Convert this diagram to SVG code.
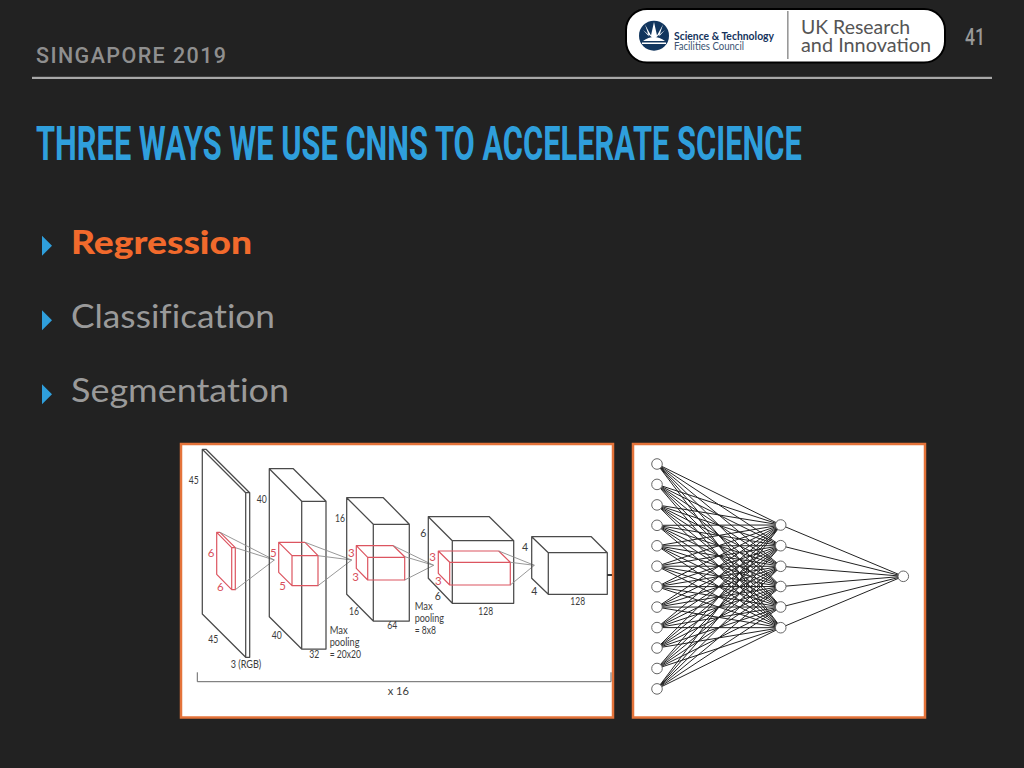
<svg xmlns="http://www.w3.org/2000/svg" width="1024" height="768" viewBox="0 0 1024 768">
<style>
.hd{font-family:"Roboto","Liberation Sans",sans-serif}
.body{font-family:"Lato","Noto Sans",sans-serif;font-size:33px;font-variant-ligatures:none}
.lb{font-family:"Lato","Noto Sans",sans-serif;font-size:10.5px;fill:#3c3c3c}
.lm{text-anchor:middle}
.red{fill:#d8505c;font-size:11.5px}
.blk{fill:none;stroke:#4a4a4a;stroke-width:1.25;stroke-linejoin:round}
.rd{fill:none;stroke:#dc5560;stroke-width:1.2;stroke-linejoin:round}
.gy{fill:none;stroke:#8c8c8c;stroke-width:.9}
.panel{fill:#fff;stroke:#e4733a;stroke-width:2.5}
.edge{fill:none;stroke:#222;stroke-width:1}
.n{fill:#fff;stroke:#666;stroke-width:1}
.bul{fill:#2f9fdc}
</style>
<rect width="1024" height="768" fill="#222222"/>
<g id="header">
<text class="hd" x="36" y="62.7" font-size="21.500" font-weight="500" fill="#8f8f8f" textLength="190" lengthAdjust="spacing">SINGAPORE 2019</text>
<rect x="32" y="76.8" width="960" height="2.2" fill="#a8a8a8"/>
<text class="hd" x="965" y="45" font-size="23" font-weight="500" fill="#999" textLength="20" lengthAdjust="spacingAndGlyphs">41</text>
</g>
<g id="logo">
<rect x="626" y="9" width="319" height="53.5" rx="21" fill="#fff" stroke="#000" stroke-width="2"/>
<circle cx="654" cy="35.7" r="15" fill="#12365e"/>
<path d="M654 39L643 30L649 36.500L645 24.500L651 35.500L654 22L657 35.500L663 24.500L659 36.500L665 30L654 39Z" fill="#fff"/>
<path d="M643 41Q654 33 665 41Z" fill="#fff"/>
<rect x="642" y="42.500" width="24" height="1.500" fill="#fff"/>
<text x="674" y="40" font-family="Lato,'Noto Sans',sans-serif" font-size="10.500" font-weight="700" fill="#14325c" textLength="100" lengthAdjust="spacingAndGlyphs">Science &amp; Technology</text>
<text x="674" y="50" font-family="Lato,'Noto Sans',sans-serif" font-size="10.500" fill="#3c5472" textLength="70" lengthAdjust="spacingAndGlyphs">Facilities Council</text>
<rect x="787" y="11" width="1.600" height="48" fill="#999"/>
<text x="801" y="34" font-family="Lato,'Noto Sans',sans-serif" font-size="19.500" fill="#555" textLength="109" lengthAdjust="spacingAndGlyphs">UK Research</text>
<text x="801" y="52" font-family="Lato,'Noto Sans',sans-serif" font-size="19.500" fill="#555" textLength="130" lengthAdjust="spacingAndGlyphs">and Innovation</text>
</g>
<text id="title" class="hd" transform="translate(36 160.200) scale(.75 1)" x="0" y="0" font-size="47.500" font-weight="700" fill="#2f9fdc" textLength="1021" lengthAdjust="spacingAndGlyphs">THREE WAYS WE USE CNNS TO ACCELERATE SCIENCE</text>
<g id="bullets">
<path class="bul" d="M42 235.700L52 245.700L42 255.700Z"/>
<path class="bul" d="M42 310.300L52 320.300L42 330.300Z"/>
<path class="bul" d="M42 384.300L52 394.300L42 404.300Z"/>
<text class="body" x="71" y="253.700" font-weight="900" fill="#f26a2c" textLength="181" lengthAdjust="spacingAndGlyphs">Regression</text>
<text class="body" x="71" y="327.700" fill="#9a9a9a" textLength="204" lengthAdjust="spacingAndGlyphs">Classification</text>
<text class="body" x="71" y="401.700" fill="#9a9a9a" textLength="218" lengthAdjust="spacingAndGlyphs">Segmentation</text>
</g>
<g id="cnn-figure">
<rect class="panel" x="181" y="444" width="432" height="273.500"/>
<g id="layer-input">
<path class="blk" d="M202.300 449.300V614L245.700 657.300H249.700V492.700L206 449.300H202.300L245.700 492.700V657.300M245.700 492.700H249.700"/>
<path class="rd" d="M220 532.300H216.700V574.300L231.700 589.700H235.300V547.700L220 532.300M216.700 532.300L231.700 547.700V589.700M231.700 547.700H235.300"/>
<path class="gy" d="M220 532.300L274.300 560M235.300 547.700L274.300 560M235.300 589.700L274.300 560"/>
<text class="lb lm" x="193.700" y="483.700" textLength="10" lengthAdjust="spacingAndGlyphs">45</text>
<text class="lb lm" x="213.300" y="643.300" textLength="10" lengthAdjust="spacingAndGlyphs">45</text>
<text class="lb lm" x="246" y="668.300" textLength="30.600" lengthAdjust="spacingAndGlyphs">3 (RGB)</text>
<text class="lb lm red" x="211" y="556.700">6</text>
<text class="lb lm red" x="220.300" y="590.700">6</text>
</g>
<g id="layer-conv1">
<path class="blk" d="M269.300 468.700V616.700L301.700 649H326V501.300L293.300 468.700H269.300L301.700 501.300V649M301.700 501.300H326"/>
<path class="rd" d="M305 542.300H278.700V572.300L292 585.700H318V555.700L305 542.300M278.700 542.300L292 555.700V585.700M292 555.700H318"/>
<path class="gy" d="M305 542.300L351.700 560M318 555.700L351.700 560M318 585.700L351.700 560"/>
<text class="lb lm" x="261.700" y="503.300" textLength="10" lengthAdjust="spacingAndGlyphs">40</text>
<text class="lb lm" x="276.700" y="639" textLength="10" lengthAdjust="spacingAndGlyphs">40</text>
<text class="lb lm" x="314.300" y="658.300" textLength="10" lengthAdjust="spacingAndGlyphs">32</text>
<text class="lb lm red" x="273.300" y="556.700">5</text>
<text class="lb lm red" x="282.700" y="590.300">5</text>
<text class="lb" x="329.700" y="634" textLength="18" lengthAdjust="spacingAndGlyphs">Max</text>
<text class="lb" x="329.700" y="646.300" textLength="29.700" lengthAdjust="spacingAndGlyphs">pooling</text>
<text class="lb" x="329.700" y="658" textLength="31.300" lengthAdjust="spacingAndGlyphs">= 20x20</text>
</g>
<g id="layer-conv2">
<path class="blk" d="M346.700 497.700V594.300L373.300 621H409.300V524.300L383.300 497.700H346.700L373.300 524.300V621M373.300 524.300H409.300"/>
<path class="rd" d="M393.300 545.700H356.300V568.300L367.700 580H404.700V556.700L393.300 545.700M356.300 545.700L367.700 557.300V580M367.700 557.300H404.700"/>
<path class="gy" d="M393.300 545.700L433.700 565.300M404.700 556.700L433.700 565.300M404.700 580L433.700 565.300"/>
<text class="lb lm" x="340" y="522.300" textLength="10" lengthAdjust="spacingAndGlyphs">16</text>
<text class="lb lm" x="354" y="614.700" textLength="10" lengthAdjust="spacingAndGlyphs">16</text>
<text class="lb lm" x="392.300" y="629" textLength="10" lengthAdjust="spacingAndGlyphs">64</text>
<text class="lb lm red" x="351.300" y="556.700">3</text>
<text class="lb lm red" x="355.700" y="581">3</text>
<text class="lb" x="414.700" y="609.700" textLength="18" lengthAdjust="spacingAndGlyphs">Max</text>
<text class="lb" x="414.700" y="622.300" textLength="29.300" lengthAdjust="spacingAndGlyphs">pooling</text>
<text class="lb" x="414.700" y="634" textLength="21.300" lengthAdjust="spacingAndGlyphs">= 8x8</text>
</g>
<g id="layer-conv3">
<path class="blk" d="M428.300 516.700V578.300L452.300 603.300H513.700V540.700L489.300 516.700H428.300L452.300 540.700V603.300M452.300 540.700H513.700"/>
<path class="rd" d="M498.700 551H438.300V573.300L449.700 585H510.300V562.300L498.700 551M438.300 551L449.700 562.300V585M449.700 562.300H510.300"/>
<path class="gy" d="M498.700 551L534.300 565.300M510.300 562.300L534.300 565.300M510.300 585L534.300 565.300"/>
<text class="lb lm" x="423.300" y="536.700">6</text>
<text class="lb lm" x="437.700" y="599.700">6</text>
<text class="lb lm" x="485.700" y="614.700" textLength="14.700" lengthAdjust="spacingAndGlyphs">128</text>
<text class="lb lm red" x="432.700" y="561.300">3</text>
<text class="lb lm red" x="438.300" y="585.300">3</text>
</g>
<g id="layer-conv4">
<path class="blk" d="M531.700 536.700V578.300L548.300 594.300H607.300V552.700L591.300 536.700H531.700L548.300 552.700V594.300M548.300 552.700H607.300"/>
<path d="M607.300 575H612" stroke="#222" stroke-width="1.800"/>
<text class="lb lm" x="525" y="551.300">4</text>
<text class="lb lm" x="534.300" y="595.300">4</text>
<text class="lb lm" x="577.700" y="605" textLength="14.700" lengthAdjust="spacingAndGlyphs">128</text>
</g>
<g id="bracket">
<path class="gy" style="stroke:#666;stroke-width:1" d="M197.300 672.300V681.700H611V672.300"/>
<text class="lb lm" x="398.300" y="694.700" style="font-size:12px" textLength="21.300" lengthAdjust="spacingAndGlyphs">x 16</text>
</g>
</g>
<g id="mlp-figure">
<rect class="panel" x="633" y="444" width="292" height="273.500"/>
<g id="connectors">
<path class="edge" d="M657 464L781 525M657 464L781 545.700M657 464L781 566.300M657 464L781 586.500M657 464L781 607M657 464L781 627.700"/>
<path class="edge" d="M657 484.400L781 525M657 484.400L781 545.700M657 484.400L781 566.300M657 484.400L781 586.500M657 484.400L781 607M657 484.400L781 627.700"/>
<path class="edge" d="M657 504.900L781 525M657 504.900L781 545.700M657 504.900L781 566.300M657 504.900L781 586.500M657 504.900L781 607M657 504.900L781 627.700"/>
<path class="edge" d="M657 525.300L781 525M657 525.300L781 545.700M657 525.300L781 566.300M657 525.300L781 586.500M657 525.300L781 607M657 525.300L781 627.700"/>
<path class="edge" d="M657 545.800L781 525M657 545.800L781 545.700M657 545.800L781 566.300M657 545.800L781 586.500M657 545.800L781 607M657 545.800L781 627.700"/>
<path class="edge" d="M657 566.200L781 525M657 566.200L781 545.700M657 566.200L781 566.300M657 566.200L781 586.500M657 566.200L781 607M657 566.200L781 627.700"/>
<path class="edge" d="M657 586.700L781 525M657 586.700L781 545.700M657 586.700L781 566.300M657 586.700L781 586.500M657 586.700L781 607M657 586.700L781 627.700"/>
<path class="edge" d="M657 607.100L781 525M657 607.100L781 545.700M657 607.100L781 566.300M657 607.100L781 586.500M657 607.100L781 607M657 607.100L781 627.700"/>
<path class="edge" d="M657 627.600L781 525M657 627.600L781 545.700M657 627.600L781 566.300M657 627.600L781 586.500M657 627.600L781 607M657 627.600L781 627.700"/>
<path class="edge" d="M657 648L781 525M657 648L781 545.700M657 648L781 566.300M657 648L781 586.500M657 648L781 607M657 648L781 627.700"/>
<path class="edge" d="M657 668.500L781 525M657 668.500L781 545.700M657 668.500L781 566.300M657 668.500L781 586.500M657 668.500L781 607M657 668.500L781 627.700"/>
<path class="edge" d="M657 688.900L781 525M657 688.900L781 545.700M657 688.900L781 566.300M657 688.900L781 586.500M657 688.900L781 607M657 688.900L781 627.700"/>
<path class="edge" d="M781 525L903.300 576.300M781 545.700L903.300 576.300M781 566.300L903.300 576.300M781 586.500L903.300 576.300M781 607L903.300 576.300M781 627.700L903.300 576.300"/>
</g>
<g id="in1"><circle class="n" cx="657" cy="464" r="5.300"/></g>
<g id="in2"><circle class="n" cx="657" cy="484.400" r="5.300"/></g>
<g id="in3"><circle class="n" cx="657" cy="504.900" r="5.300"/></g>
<g id="in4"><circle class="n" cx="657" cy="525.300" r="5.300"/></g>
<g id="in5"><circle class="n" cx="657" cy="545.800" r="5.300"/></g>
<g id="in6"><circle class="n" cx="657" cy="566.200" r="5.300"/></g>
<g id="in7"><circle class="n" cx="657" cy="586.700" r="5.300"/></g>
<g id="in8"><circle class="n" cx="657" cy="607.100" r="5.300"/></g>
<g id="in9"><circle class="n" cx="657" cy="627.600" r="5.300"/></g>
<g id="in10"><circle class="n" cx="657" cy="648" r="5.300"/></g>
<g id="in11"><circle class="n" cx="657" cy="668.500" r="5.300"/></g>
<g id="in12"><circle class="n" cx="657" cy="688.900" r="5.300"/></g>
<g id="h1"><circle class="n" cx="780.700" cy="525" r="5.300"/></g>
<g id="h2"><circle class="n" cx="780.700" cy="545.700" r="5.300"/></g>
<g id="h3"><circle class="n" cx="780.700" cy="566.300" r="5.300"/></g>
<g id="h4"><circle class="n" cx="780.700" cy="586.500" r="5.300"/></g>
<g id="h5"><circle class="n" cx="780.700" cy="607" r="5.300"/></g>
<g id="h6"><circle class="n" cx="780.700" cy="627.700" r="5.300"/></g>
<g id="out"><circle class="n" cx="903.300" cy="576.300" r="5.300"/></g>
</g>
</svg>
